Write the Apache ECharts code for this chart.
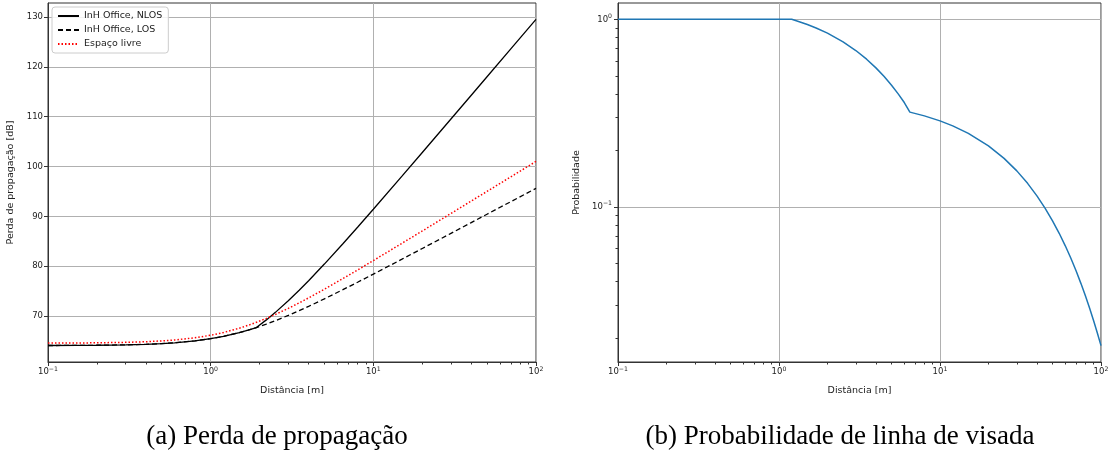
<!DOCTYPE html>
<html lang="pt">
<head>
<meta charset="utf-8">
<title>Perda de propagação e probabilidade de LOS</title>
<script src="https://cdn.jsdelivr.net/npm/echarts@6/dist/echarts.min.js"></script>
<style>
  html, body { margin: 0; padding: 0; background: #fff; }
  #chart { width: 1115px; height: 461px; }
</style>
</head>
<body>
<div id="chart"></div>
<script>
// (a) perda de propagação, distância em metros
const dist = [0.1, 0.15, 0.2, 0.3, 0.4, 0.5, 0.6, 0.8, 1, 1.2, 1.5, 1.7, 1.91, 2.2, 2.5, 3, 3.5, 4, 5, 6.5, 8, 10, 15, 20, 30, 40, 50, 70, 100];
const plNlos = [64.09, 64.11, 64.14, 64.22, 64.33, 64.47, 64.63, 65.02, 65.46, 65.93, 66.68, 67.18, 67.70, 69.23, 70.74, 73.07, 75.18, 77.09, 80.43, 84.51, 87.82, 91.42, 98.07, 102.82, 109.53, 114.31, 118.02, 123.61, 129.54];
const plLos = [64.09, 64.11, 64.14, 64.22, 64.33, 64.47, 64.63, 65.02, 65.46, 65.93, 66.68, 67.18, 67.70, 68.39, 69.07, 70.12, 71.08, 71.94, 73.45, 75.29, 76.78, 78.41, 81.41, 83.56, 86.59, 88.75, 90.43, 92.95, 95.63];
const plFree = [64.57, 64.60, 64.63, 64.72, 64.85, 65.01, 65.20, 65.64, 66.15, 66.70, 67.56, 68.14, 68.74, 69.54, 70.32, 71.54, 72.64, 73.64, 75.38, 77.51, 79.24, 81.13, 84.60, 87.07, 90.58, 93.08, 95.01, 97.93, 101.03];

// (b) probabilidade de linha de visada
const probDist = [0.1, 1.2, 1.35, 1.5, 1.7, 2, 2.5, 3, 3.5, 4, 4.5, 5, 5.5, 6, 6.5, 8, 10, 12, 15, 20, 25, 30, 35, 40, 45, 50, 55, 60, 65, 70, 75, 80, 85, 90, 95, 100];
const probLos = [1, 1, 0.9686, 0.938, 0.8991, 0.8435, 0.7583, 0.6818, 0.613, 0.5511, 0.4955, 0.4455, 0.4005, 0.3601, 0.32, 0.3056, 0.2874, 0.2703, 0.2466, 0.2115, 0.1814, 0.1556, 0.1335, 0.1145, 0.0982, 0.0843, 0.0723, 0.0620, 0.0532, 0.0456, 0.0391, 0.0336, 0.0288, 0.0247, 0.0212, 0.0182];

// ticks
const xMajor = [0.1, 1, 10, 100];
const xMinor = [0.2, 0.3, 0.4, 0.5, 0.6, 0.7, 0.8, 0.9, 2, 3, 4, 5, 6, 7, 8, 9, 20, 30, 40, 50, 60, 70, 80, 90];
const plTicks = [70, 80, 90, 100, 110, 120, 130];
const probMajor = [0.1, 1];
const probMinor = [0.02, 0.03, 0.04, 0.05, 0.06, 0.07, 0.08, 0.09, 0.2, 0.3, 0.4, 0.5, 0.6, 0.7, 0.8, 0.9];

const names = ['InH Office, NLOS', 'InH Office, LOS', 'Espaço livre'];
const captions = ['(a) Perda de propagação', '(b) Probabilidade de linha de visada'];

const font = 'DejaVu Sans';
const ink = '#222';
const spine = '#333';
const gridCol = '#b0b0b0';

// 10^n como texto rico (base + expoente)
function powLabel(v) {
  const e = Math.round(Math.log10(v));
  return '{b|10}{s|' + String(e).replace('-', '\u2212') + '}';
}
const powRich = {
  b: { fontFamily: font, fontSize: 8.5, color: ink, lineHeight: 12, verticalAlign: 'middle' },
  s: { fontFamily: font, fontSize: 6.2, color: ink, lineHeight: 4, verticalAlign: 'top' }
};

function majorX(grid, name) {
  return {
    gridIndex: grid, type: 'log', logBase: 10, min: 0.1, max: 100, position: 'bottom',
    name: name, nameLocation: 'middle', nameGap: 24,
    nameTextStyle: { fontFamily: font, fontSize: 9.5, color: ink },
    axisLine: { show: true, lineStyle: { color: spine, width: 1 } },
    axisTick: { show: true, customValues: xMajor, length: 4, lineStyle: { color: spine } },
    axisLabel: { customValues: xMajor, formatter: powLabel, rich: powRich, margin: 4 },
    splitLine: { show: true, lineStyle: { color: gridCol, width: 1 } }
  };
}
function minorX(grid) {
  return {
    gridIndex: grid, type: 'log', logBase: 10, min: 0.1, max: 100, position: 'bottom',
    axisLine: { show: false },
    axisTick: { show: true, customValues: xMinor, length: 2.5, lineStyle: { color: spine } },
    axisLabel: { show: false },
    splitLine: { show: false }
  };
}

const chart = echarts.init(document.getElementById('chart'), null, { renderer: 'canvas' });

chart.setOption({
  animation: false,
  backgroundColor: '#fff',
  grid: [
    { left: 48, top: 3, width: 488, height: 359, show: true, borderColor: spine, borderWidth: 1, outerBoundsMode: 'none' },
    { left: 618, top: 3, width: 483, height: 359, show: true, borderColor: spine, borderWidth: 1, outerBoundsMode: 'none' }
  ],
  legend: {
    data: names,
    orient: 'vertical',
    left: 52, top: 7,
    padding: [4, 6, 4, 5],
    itemGap: 4,
    itemWidth: 21, itemHeight: 10,
    itemStyle: { opacity: 0 },
    backgroundColor: 'rgba(255,255,255,0.85)',
    borderColor: '#cccccc', borderWidth: 1, borderRadius: 3,
    textStyle: { fontFamily: font, fontSize: 9.5, color: ink }
  },
  xAxis: [majorX(0, 'Distância [m]'), minorX(0), majorX(1, 'Distância [m]'), minorX(1)],
  yAxis: [
    {
      gridIndex: 0, type: 'value', min: 60.78, max: 132.81,
      name: 'Perda de propagação [dB]', nameLocation: 'middle', nameGap: 32, nameRotate: 90,
      nameTextStyle: { fontFamily: font, fontSize: 9.5, color: ink },
      axisLine: { show: true, lineStyle: { color: spine, width: 1 } },
      axisTick: { show: true, customValues: plTicks, length: 4, lineStyle: { color: spine } },
      axisLabel: { customValues: plTicks, fontFamily: font, fontSize: 8.5, color: ink, margin: 5 },
      splitLine: { show: true, lineStyle: { color: gridCol, width: 1 } }
    },
    {
      gridIndex: 1, type: 'log', logBase: 10, min: 0.01489, max: 1.222,
      name: 'Probabilidade', nameLocation: 'middle', nameGap: 36, nameRotate: 90,
      nameTextStyle: { fontFamily: font, fontSize: 9.5, color: ink },
      axisLine: { show: true, lineStyle: { color: spine, width: 1 } },
      axisTick: { show: true, customValues: probMajor, length: 4, lineStyle: { color: spine } },
      axisLabel: { customValues: probMajor, formatter: powLabel, rich: powRich, margin: 6 },
      splitLine: { show: true, lineStyle: { color: gridCol, width: 1 } }
    },
    {
      gridIndex: 1, type: 'log', logBase: 10, min: 0.01489, max: 1.222, position: 'left',
      axisLine: { show: false },
      axisTick: { show: true, customValues: probMinor, length: 2.5, lineStyle: { color: spine } },
      axisLabel: { show: false },
      splitLine: { show: false }
    }
  ],
  series: [
    {
      name: names[0], type: 'line', xAxisIndex: 0, yAxisIndex: 0,
      data: dist.map((d, i) => [d, plNlos[i]]),
      symbol: 'none',
      itemStyle: { color: '#000' },
      lineStyle: { color: '#000', width: 1.3 }
    },
    {
      name: names[1], type: 'line', xAxisIndex: 0, yAxisIndex: 0,
      data: dist.map((d, i) => [d, plLos[i]]),
      symbol: 'none',
      itemStyle: { color: '#000' },
      lineStyle: { color: '#000', width: 1.3, type: [5, 3] }
    },
    {
      name: names[2], type: 'line', xAxisIndex: 0, yAxisIndex: 0,
      data: dist.map((d, i) => [d, plFree[i]]),
      symbol: 'none',
      itemStyle: { color: '#ff0000' },
      lineStyle: { color: '#ff0000', width: 1.5, type: [1.5, 2] }
    },
    {
      name: 'P_LOS', type: 'line', xAxisIndex: 2, yAxisIndex: 1,
      data: probDist.map((d, i) => [d, probLos[i]]),
      symbol: 'none',
      itemStyle: { color: '#1f77b4' },
      lineStyle: { color: '#1f77b4', width: 1.5 }
    }
  ],
  graphic: [
    { type: 'text', x: 277, y: 437, style: { text: captions[0], fill: '#000', font: '27px "Liberation Serif"', textAlign: 'center', textVerticalAlign: 'middle' } },
    { type: 'text', x: 840, y: 437, style: { text: captions[1], fill: '#000', font: '27px "Liberation Serif"', textAlign: 'center', textVerticalAlign: 'middle' } }
  ]
});
</script>
</body>
</html>
